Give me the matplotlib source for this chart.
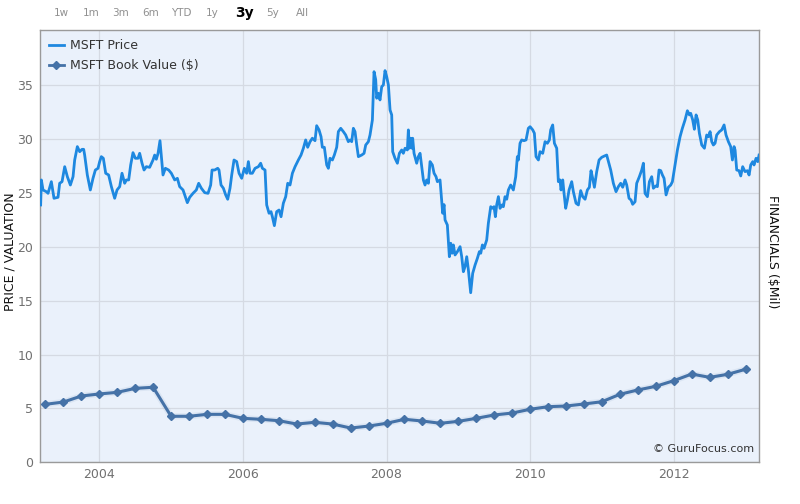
import matplotlib
matplotlib.use("Agg")
import matplotlib.pyplot as plt
from matplotlib.lines import Line2D

plt.rcParams['font.family'] = ['DejaVu Sans']

# ---- data ----
price_year = [
    2003.183, 2003.193, 2003.216, 2003.262, 2003.286, 2003.332, 2003.369, 2003.425, 2003.448, 2003.481,
    2003.518, 2003.555, 2003.597, 2003.634, 2003.657, 2003.694, 2003.727, 2003.759, 2003.782, 2003.796,
    2003.833, 2003.875, 2003.912, 2003.945, 2003.982, 2004.005, 2004.028, 2004.056, 2004.089, 2004.130,
    2004.168, 2004.214, 2004.247, 2004.284, 2004.316, 2004.353, 2004.377, 2004.409, 2004.437, 2004.469,
    2004.502, 2004.539, 2004.562, 2004.595, 2004.623, 2004.655, 2004.701, 2004.748, 2004.771, 2004.794,
    2004.818, 2004.845, 2004.887, 2004.920, 2004.966, 2005.003, 2005.050, 2005.087, 2005.119, 2005.166,
    2005.189, 2005.226, 2005.259, 2005.305, 2005.351, 2005.384, 2005.421, 2005.468, 2005.514, 2005.551,
    2005.570, 2005.607, 2005.649, 2005.667, 2005.695, 2005.728, 2005.760, 2005.788, 2005.820, 2005.844,
    2005.876, 2005.913, 2005.946, 2005.983, 2006.020, 2006.052, 2006.076, 2006.099, 2006.131, 2006.169,
    2006.215, 2006.247, 2006.271, 2006.308, 2006.331, 2006.364, 2006.391, 2006.410, 2006.438, 2006.470,
    2006.503, 2006.531, 2006.563, 2006.596, 2006.624, 2006.656, 2006.689, 2006.726, 2006.772, 2006.809,
    2006.842, 2006.874, 2006.902, 2006.935, 2006.967, 2007.004, 2007.027, 2007.060, 2007.088, 2007.106,
    2007.134, 2007.167, 2007.190, 2007.213, 2007.246, 2007.273, 2007.306, 2007.329, 2007.362, 2007.399,
    2007.431, 2007.468, 2007.492, 2007.515, 2007.538, 2007.561, 2007.585, 2007.608, 2007.654, 2007.687,
    2007.710, 2007.747, 2007.770, 2007.803, 2007.826, 2007.849, 2007.863, 2007.886, 2007.909, 2007.933,
    2007.956, 2007.979, 2008.002, 2008.026, 2008.049, 2008.072, 2008.086, 2008.118, 2008.151, 2008.179,
    2008.211, 2008.234, 2008.258, 2008.290, 2008.304, 2008.318, 2008.337, 2008.355, 2008.364, 2008.383,
    2008.420, 2008.443, 2008.467, 2008.490, 2008.513, 2008.536, 2008.559, 2008.583, 2008.606, 2008.638,
    2008.662, 2008.689, 2008.708, 2008.745, 2008.768, 2008.782, 2008.801, 2008.815, 2008.847, 2008.875,
    2008.894, 2008.912, 2008.931, 2008.954, 2008.987, 2009.024, 2009.047, 2009.070, 2009.093, 2009.117,
    2009.140, 2009.172, 2009.200, 2009.233, 2009.265, 2009.293, 2009.312, 2009.335, 2009.358, 2009.395,
    2009.418, 2009.451, 2009.479, 2009.497, 2009.516, 2009.534, 2009.558, 2009.581, 2009.609, 2009.627,
    2009.650, 2009.674, 2009.697, 2009.729, 2009.766, 2009.799, 2009.822, 2009.836, 2009.859, 2009.882,
    2009.915, 2009.943, 2009.975, 2009.999, 2010.036, 2010.059, 2010.082, 2010.115, 2010.138, 2010.175,
    2010.208, 2010.240, 2010.268, 2010.286, 2010.314, 2010.338, 2010.370, 2010.393, 2010.416, 2010.430,
    2010.454, 2010.472, 2010.495, 2010.519, 2010.542, 2010.579, 2010.602, 2010.639, 2010.672, 2010.704,
    2010.732, 2010.765, 2010.797, 2010.825, 2010.848, 2010.871, 2010.895, 2010.927, 2010.960, 2010.997,
    2011.034, 2011.066, 2011.090, 2011.122, 2011.159, 2011.196, 2011.229, 2011.261, 2011.289, 2011.322,
    2011.345, 2011.377, 2011.405, 2011.428, 2011.461, 2011.484, 2011.521, 2011.554, 2011.577, 2011.600,
    2011.633, 2011.661, 2011.693, 2011.716, 2011.749, 2011.772, 2011.795, 2011.819, 2011.842, 2011.865,
    2011.893, 2011.925, 2011.958, 2011.981, 2012.018, 2012.051, 2012.088, 2012.120, 2012.157, 2012.190,
    2012.218, 2012.236, 2012.264, 2012.287, 2012.311, 2012.334, 2012.357, 2012.390, 2012.427, 2012.459,
    2012.483, 2012.506, 2012.529, 2012.552, 2012.575, 2012.598, 2012.636, 2012.668, 2012.701, 2012.728,
    2012.761, 2012.793, 2012.817, 2012.840, 2012.854, 2012.877, 2012.909, 2012.933, 2012.960, 2012.993,
    2013.026, 2013.049, 2013.072, 2013.100, 2013.118, 2013.146, 2013.170, 2013.188,
]
price_val = [
    23.87, 26.19, 25.26, 25.10, 24.95, 26.03, 24.49, 24.58, 25.88, 26.03,
    27.42, 26.49, 25.72, 26.49, 28.04, 29.28, 28.81, 29.03, 29.03, 28.50,
    26.65, 25.26, 26.34, 27.11, 27.27, 27.89, 28.35, 28.20, 26.81, 26.65,
    25.57, 24.49, 25.26, 25.57, 26.81, 25.88, 26.19, 26.19, 27.58, 28.72,
    28.20, 28.20, 28.66, 27.74, 27.11, 27.42, 27.36, 28.04, 28.50, 28.11,
    28.66, 29.83, 26.65, 27.27, 27.11, 26.81, 26.19, 26.34, 25.57, 25.26,
    24.80, 24.08, 24.58, 24.95, 25.26, 25.88, 25.42, 25.01, 24.95, 25.72,
    27.11, 27.11, 27.27, 27.11, 25.72, 25.42, 24.80, 24.40, 25.42, 26.65,
    28.04, 27.89, 26.81, 26.34, 27.27, 26.81, 27.89, 26.81, 26.81, 27.27,
    27.42, 27.74, 27.27, 27.11, 23.87, 23.10, 23.25, 22.78, 21.95, 23.25,
    23.40, 22.78, 24.03, 24.64, 25.88, 25.72, 26.81, 27.42, 28.04, 28.50,
    29.13, 29.90, 29.22, 29.74, 30.06, 29.83, 31.22, 30.83, 30.20, 29.22,
    29.22, 27.58, 27.27, 28.20, 28.04, 28.50, 29.22, 30.67, 30.98, 30.67,
    30.36, 29.74, 29.90, 29.74, 30.98, 30.67, 29.43, 28.35, 28.50, 28.66,
    29.43, 29.74, 30.36, 31.75, 36.23, 35.50, 33.77, 34.23, 33.61, 34.84,
    35.00, 36.33, 35.77, 35.00, 32.68, 32.22, 28.81, 28.20, 27.74, 28.66,
    28.97, 28.66, 29.13, 28.97, 30.83, 29.13, 30.06, 29.13, 30.06, 28.66,
    27.74, 28.35, 28.66, 27.42, 26.19, 25.72, 26.19, 25.88, 27.89, 27.58,
    26.81, 26.50, 26.03, 26.19, 24.33, 23.10, 23.90, 22.48, 22.01, 19.07,
    20.32, 19.39, 20.16, 19.23, 19.54, 20.00, 19.07, 17.68, 18.15, 19.07,
    17.84, 15.73, 17.53, 18.30, 18.92, 19.54, 19.39, 20.16, 19.85, 20.62,
    22.17, 23.71, 23.56, 23.71, 22.78, 23.87, 24.64, 23.56, 23.87, 23.71,
    24.64, 24.40, 25.26, 25.72, 25.26, 26.49, 28.35, 28.04, 29.59, 29.90,
    29.83, 29.90, 30.98, 31.13, 30.83, 30.52, 28.35, 28.04, 28.81, 28.66,
    29.74, 29.59, 29.90, 30.83, 31.29, 29.59, 29.13, 26.03, 26.19, 25.26,
    26.19, 24.95, 23.56, 24.33, 25.26, 26.03, 25.10, 24.03, 23.87, 25.20,
    24.64, 24.40, 25.26, 25.51, 27.05, 26.34, 25.51, 26.96, 28.04, 28.29,
    28.41, 28.50, 27.89, 27.11, 25.88, 25.10, 25.57, 25.88, 25.51, 26.19,
    25.72, 24.49, 24.33, 23.93, 24.17, 25.88, 26.49, 27.11, 27.74, 24.95,
    24.64, 26.03, 26.49, 25.42, 25.63, 25.57, 27.11, 27.05, 26.65, 26.34,
    24.80, 25.51, 25.72, 26.03, 27.58, 28.97, 30.20, 30.98, 31.75, 32.61,
    32.22, 32.37, 31.75, 30.89, 32.22, 31.75, 30.52, 29.43, 29.13, 30.36,
    30.20, 30.67, 29.74, 29.43, 29.59, 30.36, 30.67, 30.83, 31.29, 30.36,
    29.74, 29.28, 28.04, 29.28, 28.97, 27.11, 27.05, 26.56, 27.42, 26.96,
    27.05, 26.65, 27.58, 27.89, 27.58, 28.20, 27.89, 28.50,
]

book_years = list(range(2003, 2013))
book_val = [
    5.38, 5.59, 6.15, 6.34,
    6.49, 6.86, 6.96, 4.27,
    4.27, 4.45, 4.45, 4.08,
    3.99, 3.86, 3.55, 3.71,
    3.55, 3.18, 3.36, 3.62,
    3.99, 3.83, 3.62, 3.80,
    4.08, 4.39, 4.57, 4.92,
    5.16, 5.22, 5.41, 5.62,
    6.31, 6.71, 7.05, 7.57,
    8.19, 7.88, 8.16, 8.63,
]
# quarter-end positions in decimal years
book_x = [y + q / 4.0 for y in book_years for q in range(1, 5)]

x_ticks = [2004, 2006, 2008, 2010, 2012]
y_ticks = [0, 5, 10, 15, 20, 25, 30, 35]
ranges = ["1w", "1m", "3m", "6m", "YTD", "1y", "3y", "5y", "All"]
selected_range = "3y"

price_color = "#1E88E0"
book_color = "#4572A7"

# ---- figure ----
fig = plt.figure(figsize=(8.0, 5.04), dpi=100)
ax = fig.add_axes([0.05, 0.0827, 0.899, 0.8572])
ax.set_facecolor("#EAF1FB")

ax.plot(price_year, price_val, color=price_color, lw=2.0, zorder=3,
        solid_joinstyle="round")
# soft shadow for book value line
ax.plot(book_x, book_val, color="#4572A7", lw=4.5, alpha=0.09, zorder=2)
ax.plot(book_x, book_val, color=book_color, lw=2.2, marker="D", ms=3.6,
        mfc=book_color, mec=book_color, zorder=4)

ax.set_xlim(2003.174, 2013.19)
ax.set_ylim(0, 40.07)
ax.set_xticks(x_ticks)
ax.set_xticklabels([str(t) for t in x_ticks])
ax.set_yticks(y_ticks)
ax.grid(True, color="#D5DAE3", lw=0.9, zorder=0)
ax.set_axisbelow(True)
for s in ax.spines.values():
    s.set_color("#9A9A9A")
    s.set_linewidth(1.0)
ax.tick_params(axis="both", length=0, colors="#707070", labelsize=9)
ax.tick_params(axis="x", pad=4)
ax.tick_params(axis="y", pad=5)

fig.text(0.0125, 0.5, "PRICE / VALUATION", rotation=90, ha="center", va="center",
         fontsize=9, color="#111111")
fig.text(0.966, 0.5, "FINANCIALS ($Mil)", rotation=270, ha="center", va="center",
         fontsize=9, color="#111111")

# range selector
xs = [61, 90.7, 120.7, 151, 181, 212, 244, 272.3, 302.3]
for lab, xp in zip(ranges, xs):
    if lab == selected_range:
        fig.text(xp / 800, 1 - 13.5 / 504, lab, ha="center", va="center",
                 fontsize=10, fontweight="bold", color="#000000")
    else:
        fig.text(xp / 800, 1 - 13.5 / 504, lab, ha="center", va="center",
                 fontsize=7.5, color="#909090")

# legend
handles = [
    Line2D([], [], color=price_color, lw=2),
    Line2D([], [], color=book_color, lw=2, marker="D", ms=3.6),
]
leg = ax.legend(handles, ["MSFT Price", "MSFT Book Value ($)"], loc="upper left",
                frameon=False, fontsize=9, handlelength=1.2, handletextpad=0.5,
                labelspacing=0.55, borderaxespad=0.3, bbox_to_anchor=(0.0, 1.0))
for t in leg.get_texts():
    t.set_color("#333333")

ax.text(0.993, 0.02, "© GuruFocus.com", transform=ax.transAxes, ha="right",
        va="bottom", fontsize=8, color="#333333")

fig.savefig("out.png", dpi=100)
